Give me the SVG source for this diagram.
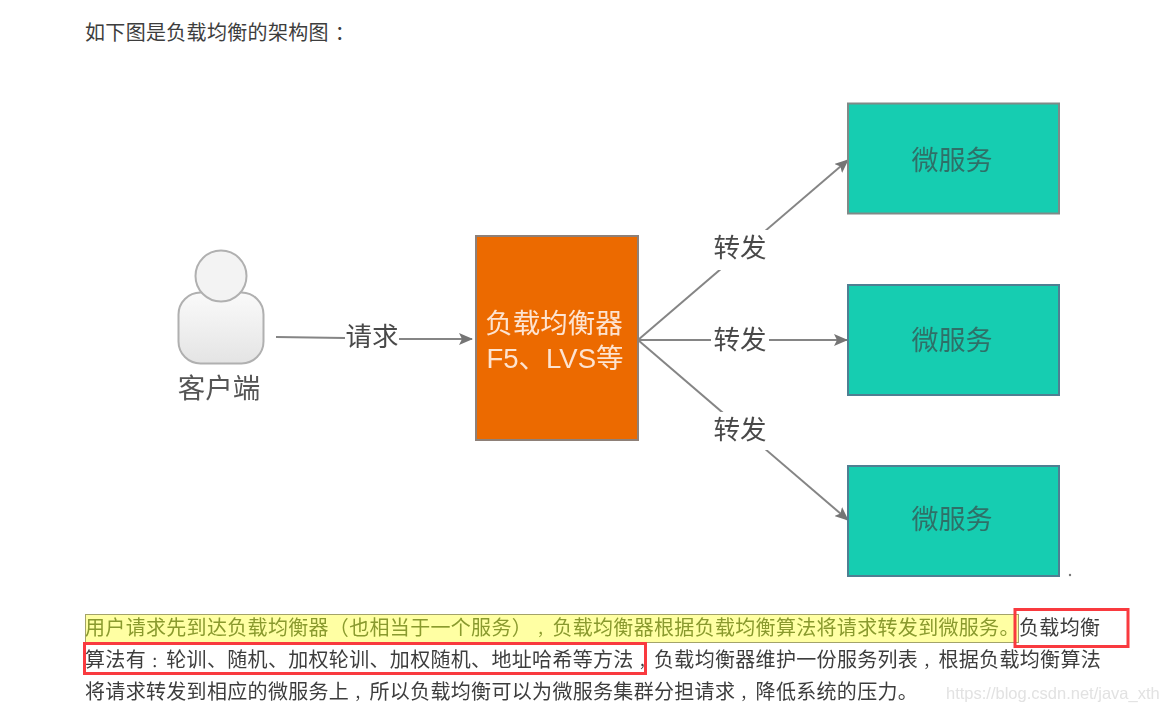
<svg xmlns="http://www.w3.org/2000/svg" width="1159" height="711" viewBox="0 0 1159 711">
<style>
text{font-family:"Liberation Sans","Noto Sans CJK SC",sans-serif;text-spacing-trim:space-all}
.p{font-family:"Noto Sans CJK SC",sans-serif;font-size:20px;letter-spacing:.32px;fill:#3d3d3d}
.z{font-family:"Noto Sans CJK TC",sans-serif}
.m{font-size:15px}
.g{font-size:27.500px;fill:#555;text-anchor:middle}
.l{font-size:26.500px;fill:#4a4a4a;text-anchor:middle}
.t{font-size:27px;fill:#2f6f68;text-anchor:middle}
.o{font-size:27.500px;fill:#fde3d0;text-anchor:middle}
.c{stroke:#858585;stroke-width:2;fill:none}
.w{fill:#fff}
.teal{fill:#19cdb1;stroke:#4f7f92;stroke-width:2}
.r{fill:none;stroke:#f93a3f;stroke-width:3}
</style>
<defs>
<marker id="a" viewBox="0 0 14 12" refX="13" refY="6" markerWidth="14" markerHeight="12" markerUnits="userSpaceOnUse" orient="auto"><path d="M0 0L14 6L0 12L3 6Z" fill="#757575"/></marker>
<linearGradient id="b" x1="0" y1="0" x2="0" y2="1"><stop offset="0" stop-color="#fafafa"/><stop offset="1" stop-color="#e4e4e4"/></linearGradient>
<filter id="s" x="-5%" y="-5%" width="110%" height="110%"><feGaussianBlur stdDeviation=".7"/></filter>
<filter id="f" x="-2%" y="-5%" width="104%" height="110%"><feGaussianBlur stdDeviation=".3"/></filter>
</defs>
<rect width="1159" height="711" fill="#fff"/>
<text class="p" x="85" y="40">如下图是负载均衡的架构图<tspan dx="6">：</tspan></text>
<g filter="url(#s)">
<g id="connectors">
<path class="c" d="M276 337L345 338M399 339L472 339" marker-end="url(#a)"/>
<path class="c" d="M638 340L848 160" marker-end="url(#a)"/>
<path class="c" d="M638 340L847 340" marker-end="url(#a)"/>
<path class="c" d="M638 340L848 520" marker-end="url(#a)"/>
<rect class="w" x="711" y="230" width="58" height="40"/>
<rect class="w" x="711" y="322" width="58" height="36"/>
<rect class="w" x="711" y="412" width="58" height="38"/>
<text class="l" x="372" y="346">请求</text>
<text class="l" x="740" y="257">转发</text>
<text class="l" x="740" y="349">转发</text>
<text class="l" x="740" y="439">转发</text>
</g>
<g id="client">
<rect x="178.500" y="292.500" width="85" height="71" rx="22" fill="url(#b)" stroke="#b0b0b0" stroke-width="2"/>
<circle cx="221" cy="276" r="25.500" fill="#f3f3f3" stroke="#b0b0b0" stroke-width="2"/>
<text class="g" x="219" y="398">客户端</text>
</g>
<g id="lb">
<rect x="476" y="236" width="162" height="204" fill="#ec6a00" stroke="#8e8078" stroke-width="2"/>
<text class="o" x="554" y="333">负载均衡器</text>
<text class="o" x="555" y="368">F5、LVS等</text>
</g>
<g id="svc1"><rect class="teal" x="848" y="103.500" width="211" height="110" style="stroke:#808a88"/><text class="t" x="952" y="170">微服务</text></g>
<g id="svc2"><rect class="teal" x="848" y="285" width="211" height="110"/><text class="t" x="952" y="350">微服务</text></g>
<g id="svc3"><rect class="teal" x="848" y="466" width="211" height="110"/><text class="t" x="952" y="529">微服务</text></g>
<circle cx="1070" cy="575" r="1.200" fill="#777"/>
</g>
<rect x="85.500" y="614.500" width="933" height="28" fill="#ffffa3" stroke="#a3a36a"/>
<g filter="url(#f)">
<text class="p" x="85" y="635" style="fill:#8a9a2e">用户请求先到达负载均衡器<tspan class="z">（</tspan>也相当于一个服务<tspan class="z">）</tspan><tspan class="m" dx="5">，</tspan>负载均衡器根据负载均衡算法将请求转发到微服务。</text>
<text class="p" x="1019" y="635">负载均衡</text>
<text class="p" x="85" y="667">算法有<tspan class="m" dx="5">：</tspan>轮训、随机、加权轮训、加权随机、地址哈希等方法<tspan class="m" dx="5">，</tspan>负载均衡器维护一份服务列表<tspan class="m" dx="5">，</tspan>根据负载均衡算法</text>
<text class="p" x="85" y="699">将请求转发到相应的微服务上<tspan class="m" dx="5">，</tspan>所以负载均衡可以为微服务集群分担请求<tspan class="m" dx="5">，</tspan>降低系统的压力。</text>
<text x="946" y="699" font-size="16.500" fill="#e2e2e2">https://blog.csdn.net/java_xth</text>
</g>
<rect class="r" x="1015" y="609.500" width="113" height="37"/>
<rect class="r" x="84.500" y="643.500" width="561" height="30"/>
</svg>
